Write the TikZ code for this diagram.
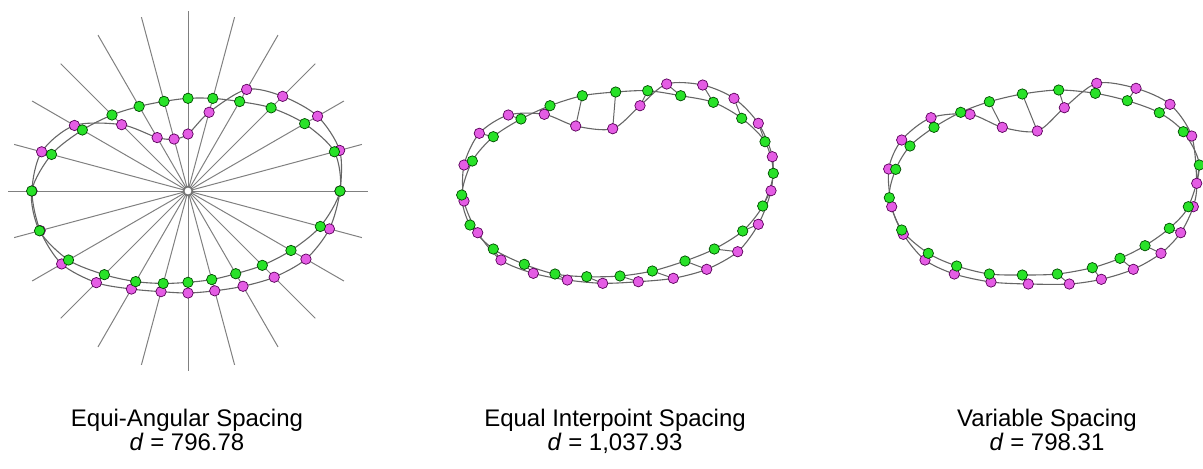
\documentclass[tikz,border=0pt]{standalone}
\usepackage{fontspec}
\setmainfont{Liberation Sans}
\usetikzlibrary{calc}

\definecolor{ptgreen}{RGB}{40,226,40}
\definecolor{ptmagenta}{RGB}{228,92,228}

\tikzset{
  ray/.style={draw=black!50, line width=0.5pt},
  curve/.style={draw=black!60, line width=0.55pt},
  link/.style={draw=black!60, line width=0.5pt},
  gdot/.style={circle, inner sep=0pt, minimum size=5.2pt, draw=green!30!black, line width=0.35pt, fill=ptgreen},
  mdot/.style={circle, inner sep=0pt, minimum size=5.2pt, draw=violet!70!black, line width=0.35pt, fill=ptmagenta},
  hub/.style={circle, inner sep=0pt, minimum size=4.4pt, draw=black!55, line width=0.8pt, fill=white},
  caption/.style={font=\fontsize{12}{12}\selectfont, inner sep=0pt, anchor=base}
}

\begin{document}
\begin{tikzpicture}[x=0.5pt,y=-0.5pt]
    \useasboundingbox (0,0) rectangle (1203,468);

    % equi-angular spacing
    \coordinate (c) at (188,191);
    \foreach \a/\g/\m [count=\i from 0] in {0/152/152, 15/151.6/157, 30/134.7/149.6, 45/117.6/133.9,
        60/103.3/117.3, 75/95.9/81.5, 90/92.7/57, 105/92.8/53.8, 120/97.7/61.7, 135/107.5/93.8,
        150/122/131.1, 165/141.3/151.5, 180/156.3/156, 195/153.7/153, 210/138/145.9, 225/118.3/129.6,
        240/104.6/113.2, 255/95.7/104.2, 270/91.3/102, 285/91.7/103.3, 300/95.5/110, 315/105.1/121.9,
        330/118.9/136.2, 345/137/146.4} {
        \coordinate (ar\i) at ($(c)+(-\a:180)$);
        \coordinate (ag\i) at ($(c)+(-\a:\g)$);
        \coordinate (am\i) at ($(c)+(-\a:\m)$);
        \draw[ray] (c) -- (ar\i);
    }
    \node[hub] (hub) at (c) {};
    \draw[curve] plot[smooth cycle, samples at={0,...,23}, variable=\k] (ag\k);
    \draw[curve] plot[smooth cycle, samples at={0,...,23}, variable=\k] (am\k);
    \foreach \i in {0,...,23} {
        \node[mdot] (amd\i) at (am\i) {};
        \node[gdot] (agd\i) at (ag\i) {};
    }

    % equal interpoint spacing
    \foreach \gx/\gy/\mx/\my [count=\i from 0] in {550/105.7/544.3/114.3, 582.3/95.7/575.7/126,
        615.7/92/612.7/128.7, 647.7/90.7/640/105.7, 680.7/95.7/666.7/84, 713.3/102.3/702.7/85,
        741.7/118.3/734/98.3, 765/141.7/758.3/123.3, 773.3/173.3/772.3/156.7, 762.7/206/771/190.7,
        742.7/231/758.3/224.3, 714.3/249/737.7/251.7, 685/261/706.7/269.3, 652.3/271/673.3/278.3,
        620/276/638.3/281.7, 586.7/276.7/602.7/283.3, 555/274/567.3/280, 524.3/264.3/533.3/273.3,
        493.3/249/501/260, 470/225/477.7/232.7, 461.7/195/464/201, 472.3/161/464/165,
        493.3/136.7/479.3/133.3, 521/119/508.3/115} {
        \coordinate (eg\i) at (\gx,\gy);
        \coordinate (em\i) at (\mx,\my);
        \draw[link] (eg\i) -- (em\i);
    }
    \draw[curve] plot[smooth cycle, samples at={0,...,23}, variable=\k] (eg\k);
    \draw[curve] plot[smooth cycle, samples at={0,...,23}, variable=\k] (em\k);
    \foreach \i in {0,...,23} {
        \node[mdot] (emd\i) at (em\i) {};
        \node[gdot] (egd\i) at (eg\i) {};
    }

    % variable spacing
    \foreach \gx/\gy/\mx/\my [count=\i from 0] in {960.7/112.3/970/114.3, 989.3/101.7/1002.3/127.3,
        1022.3/94/1037.3/131, 1058.7/90/1064.3/107.7, 1095.3/93.3/1096.7/83.3, 1127.3/100.7/1136/88.3,
        1159.3/112.7/1170/104.3, 1183.3/131.7/1191.7/136, 1199.3/165/1196.7/183.3, 1188.3/206.7/1193.3/206.7,
        1169.3/228.3/1180.7/232.7, 1145/245.7/1161/253.3, 1120/258.3/1133.3/269.3, 1092.3/267.7/1101.3/279.3,
        1057.3/274/1069.3/284, 1022.3/275/1028.3/284, 989.3/274/991/282, 956.7/266/954.3/274,
        928.3/253.3/925/260, 901.7/230/903.3/234.3, 889.3/197.7/891.7/206.7, 895.7/169.3/888.7/169,
        910/146/901.7/140, 934/127.3/931/117.7} {
        \coordinate (vg\i) at (\gx,\gy);
        \coordinate (vm\i) at (\mx,\my);
        \draw[link] (vg\i) -- (vm\i);
    }
    \draw[curve] plot[smooth cycle, samples at={0,...,23}, variable=\k] (vg\k);
    \draw[curve] plot[smooth cycle, samples at={0,...,23}, variable=\k] (vm\k);
    \foreach \i in {0,...,23} {
        \node[mdot] (vmd\i) at (vm\i) {};
        \node[gdot] (vgd\i) at (vg\i) {};
    }

    % captions
    \node[caption] (angtitle) at (187,426) {Equi-Angular Spacing};
    \node[caption] (angd) at (187,450) {\textit{d} = 796.78};
    \node[caption] (eqtitle) at (615,426) {Equal Interpoint Spacing};
    \node[caption] (eqd) at (615,450) {\textit{d} = 1,037.93};
    \node[caption] (vartitle) at (1047,426) {Variable Spacing};
    \node[caption] (vard) at (1047,450) {\textit{d} = 798.31};
\end{tikzpicture}
\end{document}
